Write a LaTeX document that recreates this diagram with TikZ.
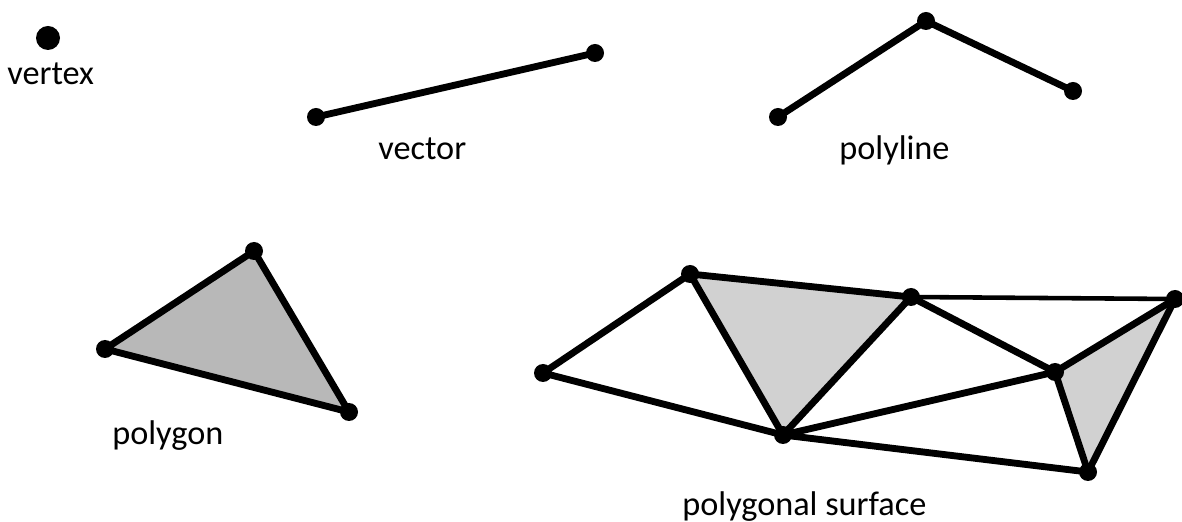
\documentclass[tikz,border=0pt]{standalone}
\usepackage{fontspec}
\setmainfont{Carlito}
\usepackage{tikz,tkz-euclide}

\begin{document}
\begin{tikzpicture}[line join=round, line cap=round, font=\fontsize{19.5}{22}\selectfont]
	\useasboundingbox (0,0) rectangle (23.64,10.42);
	\tkzDefPoints{0.96/9.66/V,6.32/8.08/P,11.90/9.36/Q}
	\tkzDefPoints{15.56/8.08/L,18.52/10.00/M,21.46/8.60/N}
	\tkzDefPoints{2.10/3.44/T,5.08/5.40/U,6.98/2.18/W}
	\tkzDefPoints{10.86/2.96/A,13.80/4.94/B,15.66/1.72/C,18.22/4.48/D}
	\tkzDefPoints{21.10/2.98/E,23.50/4.44/F,21.76/0.98/G}
	% fills
	\tkzFillPolygon[fill=black!28](T,U,W)
	\tkzFillPolygon[fill=black!18](B,C,D)
	\tkzFillPolygon[fill=black!18](E,F,G)
	% edges
	\tkzDrawSegments[line width=3.9pt](P,Q L,M M,N)
	\tkzDrawPolygon[line width=3.9pt](T,U,W)
	\tkzDrawSegments[line width=3.9pt](A,B A,C B,C B,D C,D D,E C,E C,G E,F E,G F,G)
	\tkzDrawSegments[line width=2.6pt](D,F)
	% vertices
	\fill (V) circle (0.24);
	\foreach \p in {P,Q,L,M,N,T,U,W,A,B,C,D,E,F,G}
		\fill (\p) circle (0.18);
	% labels
	\node[anchor=base west, inner sep=0pt] (lv) at (0.14,8.72) {vertex};
	\node[anchor=base west, inner sep=0pt] (lq) at (7.56,7.22) {vector};
	\node[anchor=base west, inner sep=0pt] (ll) at (16.78,7.22) {polyline};
	\node[anchor=base west, inner sep=0pt] (lt) at (2.24,1.52) {polygon};
	\node[anchor=base west, inner sep=0pt] (ls) at (13.64,0.12) {polygonal surface};
\end{tikzpicture}
\end{document}
